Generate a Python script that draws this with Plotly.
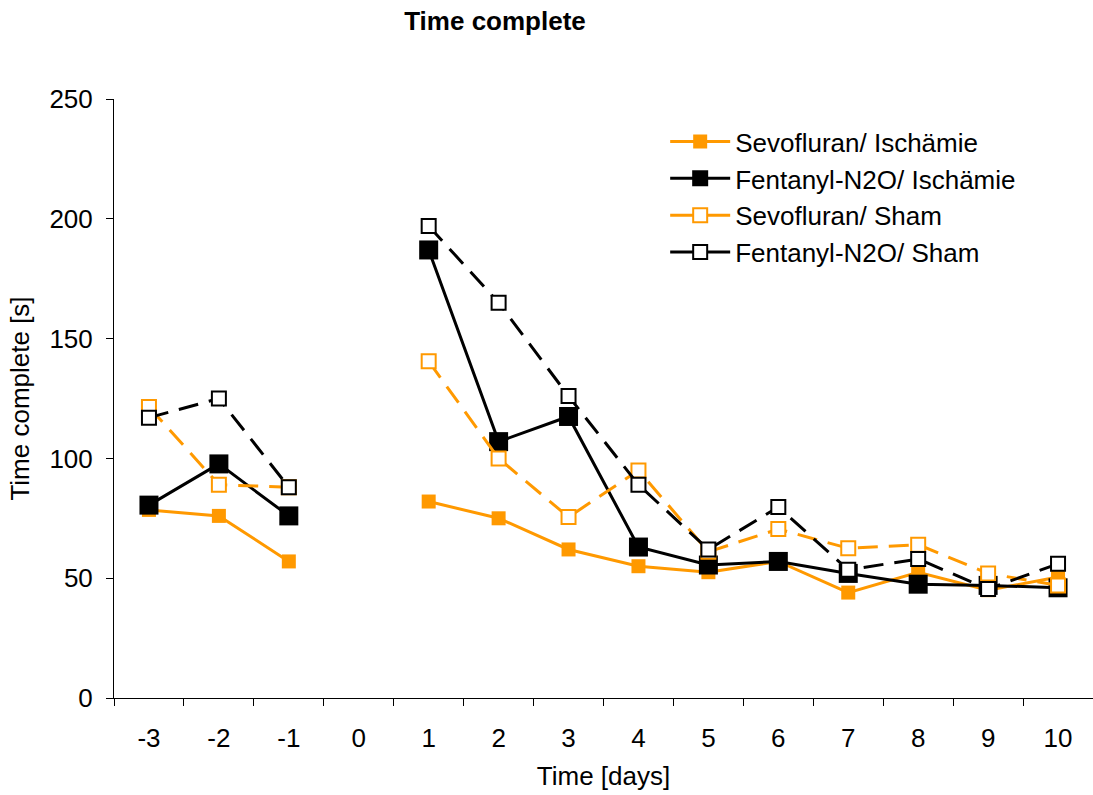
import plotly.graph_objects as go

days = ["-3", "-2", "-1", "0", "1", "2", "3", "4", "5", "6", "7", "8", "9", "10"]
sevo_isch = [78.5, 76, 57, None, 82, 75, 62, 55, 52.5, 57, 44, 52.5, 45, 50.5]
fent_isch = [80.5, 97.7, 76, None, 187, 107, 117.5, 63, 55.5, 57, 52, 47.5, 47, 46]
sevo_sham = [121.5, 89, 88, None, 140.5, 100, 75.5, 95, 61, 70.5, 62.5, 64, 52, 47]
fent_sham = [117, 125, 88, None, 197, 165, 126, 89, 62, 79.7, 53.5, 58, 45.5, 56]

ORANGE = "#FF9900"
FS = 26
fig = go.Figure()

def add(name, y, color, filled, dashed, size, rank):
    marker = dict(symbol="square", size=size,
                  color=color if filled else "white",
                  line=dict(color=color, width=2 if not filled else 0))
    fig.add_trace(go.Scatter(
        x=days, y=y, name=name, mode="lines+markers",
        connectgaps=False, legendgroup=name, showlegend=not dashed, legendrank=rank,
        line=dict(color=color, width=3, dash="20px,11px" if dashed else "solid"),
        marker=marker,
    ))
    if dashed:
        # legend entry drawn with a solid line, as in the reference
        fig.add_trace(go.Scatter(
            x=[None], y=[None], name=name, mode="lines+markers",
            legendgroup=name, showlegend=True, legendrank=rank, hoverinfo="skip",
            line=dict(color=color, width=3), marker=marker,
        ))

add("Sevofluran/ Ischämie", sevo_isch, ORANGE, True, False, 14, 1)
add("Fentanyl-N2O/ Ischämie", fent_isch, "black", True, False, 19, 2)
add("Sevofluran/ Sham", sevo_sham, ORANGE, False, True, 14, 3)
add("Fentanyl-N2O/ Sham", fent_sham, "black", False, True, 14, 4)

fig.update_layout(
    width=1093, height=795,
    paper_bgcolor="white", plot_bgcolor="white",
    font=dict(family="Liberation Sans, Arial, sans-serif", size=FS, color="black"),
    margin=dict(l=114, r=0, t=99, b=97),
    title=dict(text="<b>Time complete</b>", x=495/1093, xanchor="center",
               y=1 - 21/795, yanchor="middle", font=dict(size=FS)),
    showlegend=True,
    legend=dict(x=0.563, y=0.968, xanchor="left", yanchor="top",
                bgcolor="rgba(0,0,0,0)", font=dict(size=FS),
                tracegroupgap=0, itemwidth=60),
    xaxis=dict(type="category", categoryorder="array", categoryarray=days,
               tickson="boundaries", ticks="outside", ticklen=7, tickcolor="black",
               showline=True, linecolor="black", linewidth=1, showgrid=False,
               zeroline=False, range=[-0.5, 13.5], ticklabelstandoff=17,
               title=dict(text="Time [days]", standoff=14, font=dict(size=FS))),
    yaxis=dict(range=[0, 250], dtick=50, ticks="outside", ticklen=7, tickcolor="black",
               showline=True, linecolor="black", linewidth=1, showgrid=False,
               zeroline=False, ticklabelstandoff=8,
               title=dict(text="Time complete [s]", standoff=12, font=dict(size=FS))),
)

fig.write_html("out.html")
